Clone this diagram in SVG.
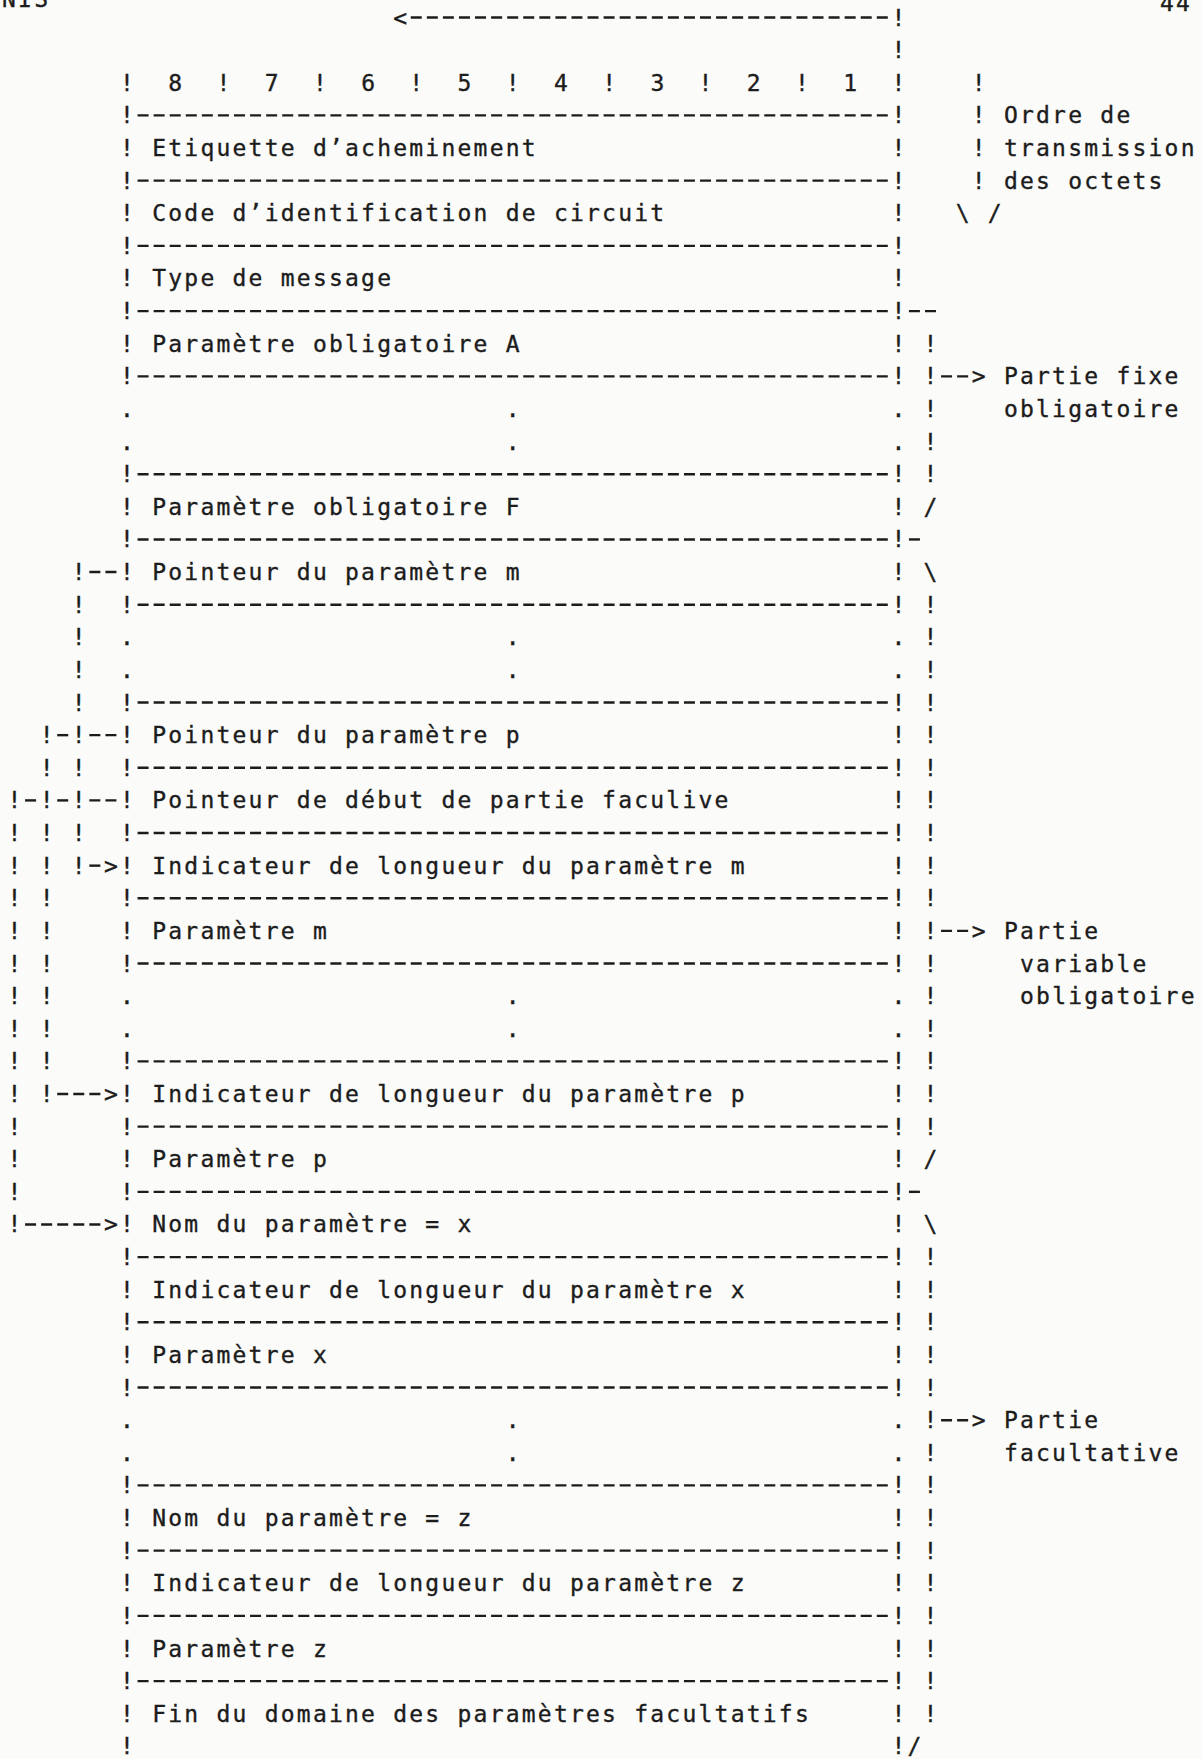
<svg xmlns="http://www.w3.org/2000/svg" xmlns:xlink="http://www.w3.org/1999/xlink" width="1203" height="1759" viewBox="0 0 1203 1759">
<style>
text{font-family:"DejaVu Sans Mono","Liberation Mono",monospace;font-size:23px;letter-spacing:2.22px;fill:#1c1c1c;stroke:#1c1c1c;stroke-width:0.35px;white-space:pre}
.d{stroke:#1c1c1c;stroke-width:2.4;stroke-dasharray:11 5.07;fill:none}
</style>
<defs>
<text id="edge" x="120.08 891.44" y="0">!!</text>
<text id="dots" x="120.08 505.76 891.44" y="0">...</text>
<line id="rule" x1="137.57" y1="-8" x2="887.79" y2="-8" class="d"/>
<text id="rb" x="923.58" y="0">!</text>
<text id="l7" x="7.59" y="0">!</text>
<text id="l5" x="39.73" y="0">!</text>
<text id="l3" x="71.87" y="0">!</text>
</defs>
<rect width="1203" height="1759" fill="#fbfbf9"/>

<g id="page">
<text x="2" y="7">NIS</text>
<text x="1160" y="11">44</text>
</g>

<g id="frame">
<text x="393.27" y="25.52">&lt;</text>
<line x1="410.76" y1="17.52" x2="887.79" y2="17.52" class="d"/>
<text x="891.44" y="25.52">!</text>
<text x="891.44" y="58.14">!</text>
<text x="120.08 168.29 216.50 264.71 312.92 361.13 409.34 457.55 505.76 553.97 602.18 650.39 698.60 746.81 795.02 843.23 891.44" y="90.76">!8!7!6!5!4!3!2!1!</text>
<use xlink:href="#edge" y="123.38"/><use xlink:href="#rule" y="123.38"/>
<use xlink:href="#edge" y="156"/>
<use xlink:href="#edge" y="188.62"/><use xlink:href="#rule" y="188.62"/>
<use xlink:href="#edge" y="221.24"/>
<use xlink:href="#edge" y="253.86"/><use xlink:href="#rule" y="253.86"/>
<use xlink:href="#edge" y="286.48"/>
<use xlink:href="#edge" y="319.10"/><use xlink:href="#rule" y="319.10"/>
<use xlink:href="#edge" y="351.72"/>
<use xlink:href="#edge" y="384.34"/><use xlink:href="#rule" y="384.34"/>
<use xlink:href="#dots" y="416.96"/>
<use xlink:href="#dots" y="449.58"/>
<use xlink:href="#edge" y="482.20"/><use xlink:href="#rule" y="482.20"/>
<use xlink:href="#edge" y="514.82"/>
<use xlink:href="#edge" y="547.44"/><use xlink:href="#rule" y="547.44"/>
<use xlink:href="#edge" y="580.06"/>
<use xlink:href="#edge" y="612.68"/><use xlink:href="#rule" y="612.68"/>
<use xlink:href="#dots" y="645.30"/>
<use xlink:href="#dots" y="677.92"/>
<use xlink:href="#edge" y="710.54"/><use xlink:href="#rule" y="710.54"/>
<use xlink:href="#edge" y="743.16"/>
<use xlink:href="#edge" y="775.78"/><use xlink:href="#rule" y="775.78"/>
<use xlink:href="#edge" y="808.40"/>
<use xlink:href="#edge" y="841.02"/><use xlink:href="#rule" y="841.02"/>
<use xlink:href="#edge" y="873.64"/>
<use xlink:href="#edge" y="906.26"/><use xlink:href="#rule" y="906.26"/>
<use xlink:href="#edge" y="938.88"/>
<use xlink:href="#edge" y="971.50"/><use xlink:href="#rule" y="971.50"/>
<use xlink:href="#dots" y="1004.12"/>
<use xlink:href="#dots" y="1036.74"/>
<use xlink:href="#edge" y="1069.36"/><use xlink:href="#rule" y="1069.36"/>
<use xlink:href="#edge" y="1101.98"/>
<use xlink:href="#edge" y="1134.60"/><use xlink:href="#rule" y="1134.60"/>
<use xlink:href="#edge" y="1167.22"/>
<use xlink:href="#edge" y="1199.84"/><use xlink:href="#rule" y="1199.84"/>
<use xlink:href="#edge" y="1232.46"/>
<use xlink:href="#edge" y="1265.08"/><use xlink:href="#rule" y="1265.08"/>
<use xlink:href="#edge" y="1297.70"/>
<use xlink:href="#edge" y="1330.32"/><use xlink:href="#rule" y="1330.32"/>
<use xlink:href="#edge" y="1362.94"/>
<use xlink:href="#edge" y="1395.56"/><use xlink:href="#rule" y="1395.56"/>
<use xlink:href="#dots" y="1428.18"/>
<use xlink:href="#dots" y="1460.80"/>
<use xlink:href="#edge" y="1493.42"/><use xlink:href="#rule" y="1493.42"/>
<use xlink:href="#edge" y="1526.04"/>
<use xlink:href="#edge" y="1558.66"/><use xlink:href="#rule" y="1558.66"/>
<use xlink:href="#edge" y="1591.28"/>
<use xlink:href="#edge" y="1623.90"/><use xlink:href="#rule" y="1623.90"/>
<use xlink:href="#edge" y="1656.52"/>
<use xlink:href="#edge" y="1689.14"/><use xlink:href="#rule" y="1689.14"/>
<use xlink:href="#edge" y="1721.76"/>
<use xlink:href="#edge" y="1754.38"/>
</g>

<g id="n-etiquette"><text x="152.22" y="156">Etiquette d’acheminement</text></g>
<g id="n-cic"><text x="152.22" y="221.24">Code d’identification de circuit</text></g>
<g id="n-type"><text x="152.22" y="286.48">Type de message</text></g>
<g id="n-param-a"><text x="152.22" y="351.72">Paramètre obligatoire A</text></g>
<g id="n-param-f"><text x="152.22" y="514.82">Paramètre obligatoire F</text></g>
<g id="n-ptr-m"><text x="152.22" y="580.06">Pointeur du paramètre m</text></g>
<g id="n-ptr-p"><text x="152.22" y="743.16">Pointeur du paramètre p</text></g>
<g id="n-ptr-opt"><text x="152.22" y="808.40">Pointeur de début de partie faculive</text></g>
<g id="n-len-m"><text x="152.22" y="873.64">Indicateur de longueur du paramètre m</text></g>
<g id="n-param-m"><text x="152.22" y="938.88">Paramètre m</text></g>
<g id="n-len-p"><text x="152.22" y="1101.98">Indicateur de longueur du paramètre p</text></g>
<g id="n-param-p"><text x="152.22" y="1167.22">Paramètre p</text></g>
<g id="n-name-x"><text x="152.22" y="1232.46">Nom du paramètre = x</text></g>
<g id="n-len-x"><text x="152.22" y="1297.70">Indicateur de longueur du paramètre x</text></g>
<g id="n-param-x"><text x="152.22" y="1362.94">Paramètre x</text></g>
<g id="n-name-z"><text x="152.22" y="1526.04">Nom du paramètre = z</text></g>
<g id="n-len-z"><text x="152.22" y="1591.28">Indicateur de longueur du paramètre z</text></g>
<g id="n-param-z"><text x="152.22" y="1656.52">Paramètre z</text></g>
<g id="n-end"><text x="152.22" y="1721.76">Fin du domaine des paramètres facultatifs</text></g>

<g id="connectors">
<use xlink:href="#l3" y="580.06"/><line x1="89.36" y1="572.06" x2="116.43" y2="572.06" class="d"/>
<use xlink:href="#l3" y="612.68"/>
<use xlink:href="#l3" y="645.30"/>
<use xlink:href="#l3" y="677.92"/>
<use xlink:href="#l3" y="710.54"/>
<use xlink:href="#l5" y="743.16"/><use xlink:href="#l3" y="743.16"/>
<line x1="57.22" y1="735.16" x2="68.22" y2="735.16" class="d"/><line x1="89.36" y1="735.16" x2="116.43" y2="735.16" class="d"/>
<use xlink:href="#l5" y="775.78"/><use xlink:href="#l3" y="775.78"/>
<use xlink:href="#l7" y="808.40"/><use xlink:href="#l5" y="808.40"/><use xlink:href="#l3" y="808.40"/>
<line x1="25.08" y1="800.40" x2="36.08" y2="800.40" class="d"/><line x1="57.22" y1="800.40" x2="68.22" y2="800.40" class="d"/><line x1="89.36" y1="800.40" x2="116.43" y2="800.40" class="d"/>
<use xlink:href="#l7" y="841.02"/><use xlink:href="#l5" y="841.02"/><use xlink:href="#l3" y="841.02"/>
<use xlink:href="#l7" y="873.64"/><use xlink:href="#l5" y="873.64"/><use xlink:href="#l3" y="873.64"/>
<line x1="89.36" y1="865.64" x2="100.36" y2="865.64" class="d"/><text x="104.01" y="873.64">&gt;</text>
<use xlink:href="#l7" y="906.26"/><use xlink:href="#l5" y="906.26"/>
<use xlink:href="#l7" y="938.88"/><use xlink:href="#l5" y="938.88"/>
<use xlink:href="#l7" y="971.50"/><use xlink:href="#l5" y="971.50"/>
<use xlink:href="#l7" y="1004.12"/><use xlink:href="#l5" y="1004.12"/>
<use xlink:href="#l7" y="1036.74"/><use xlink:href="#l5" y="1036.74"/>
<use xlink:href="#l7" y="1069.36"/><use xlink:href="#l5" y="1069.36"/>
<use xlink:href="#l7" y="1101.98"/><use xlink:href="#l5" y="1101.98"/>
<line x1="57.22" y1="1093.98" x2="100.36" y2="1093.98" class="d"/><text x="104.01" y="1101.98">&gt;</text>
<use xlink:href="#l7" y="1134.60"/>
<use xlink:href="#l7" y="1167.22"/>
<use xlink:href="#l7" y="1199.84"/>
<use xlink:href="#l7" y="1232.46"/>
<line x1="25.08" y1="1224.46" x2="100.36" y2="1224.46" class="d"/><text x="104.01" y="1232.46">&gt;</text>

<text x="971.79" y="90.76">!</text>
<text x="971.79" y="123.38">!</text>
<text x="971.79" y="156">!</text>
<text x="971.79" y="188.62">!</text>
<text x="955.72 987.86" y="221.24">\/</text>

<line x1="908.93" y1="311.10" x2="936.00" y2="311.10" class="d"/>
<use xlink:href="#rb" y="351.72"/>
<use xlink:href="#rb" y="384.34"/><line x1="941.07" y1="376.34" x2="968.14" y2="376.34" class="d"/><text x="971.79" y="384.34">&gt;</text>
<use xlink:href="#rb" y="416.96"/>
<use xlink:href="#rb" y="449.58"/>
<use xlink:href="#rb" y="482.20"/>
<text x="923.58" y="514.82">/</text>
<line x1="908.93" y1="539.44" x2="919.93" y2="539.44" class="d"/>

<text x="923.58" y="580.06">\</text>
<use xlink:href="#rb" y="612.68"/>
<use xlink:href="#rb" y="645.30"/>
<use xlink:href="#rb" y="677.92"/>
<use xlink:href="#rb" y="710.54"/>
<use xlink:href="#rb" y="743.16"/>
<use xlink:href="#rb" y="775.78"/>
<use xlink:href="#rb" y="808.40"/>
<use xlink:href="#rb" y="841.02"/>
<use xlink:href="#rb" y="873.64"/>
<use xlink:href="#rb" y="906.26"/>
<use xlink:href="#rb" y="938.88"/><line x1="941.07" y1="930.88" x2="968.14" y2="930.88" class="d"/><text x="971.79" y="938.88">&gt;</text>
<use xlink:href="#rb" y="971.50"/>
<use xlink:href="#rb" y="1004.12"/>
<use xlink:href="#rb" y="1036.74"/>
<use xlink:href="#rb" y="1069.36"/>
<use xlink:href="#rb" y="1101.98"/>
<use xlink:href="#rb" y="1134.60"/>
<text x="923.58" y="1167.22">/</text>
<line x1="908.93" y1="1191.84" x2="919.93" y2="1191.84" class="d"/>

<text x="923.58" y="1232.46">\</text>
<use xlink:href="#rb" y="1265.08"/>
<use xlink:href="#rb" y="1297.70"/>
<use xlink:href="#rb" y="1330.32"/>
<use xlink:href="#rb" y="1362.94"/>
<use xlink:href="#rb" y="1395.56"/>
<use xlink:href="#rb" y="1428.18"/><line x1="941.07" y1="1420.18" x2="968.14" y2="1420.18" class="d"/><text x="971.79" y="1428.18">&gt;</text>
<use xlink:href="#rb" y="1460.80"/>
<use xlink:href="#rb" y="1493.42"/>
<use xlink:href="#rb" y="1526.04"/>
<use xlink:href="#rb" y="1558.66"/>
<use xlink:href="#rb" y="1591.28"/>
<use xlink:href="#rb" y="1623.90"/>
<use xlink:href="#rb" y="1656.52"/>
<use xlink:href="#rb" y="1689.14"/>
<use xlink:href="#rb" y="1721.76"/>
<text x="907.51" y="1754.38">/</text>
</g>

<g id="annotations">
<text x="1003.93" y="123.38">Ordre de</text>
<text x="1003.93" y="156">transmission</text>
<text x="1003.93" y="188.62">des octets</text>
<text x="1003.93" y="384.34">Partie fixe</text>
<text x="1003.93" y="416.96">obligatoire</text>
<text x="1003.93" y="938.88">Partie</text>
<text x="1020.00" y="971.50">variable</text>
<text x="1020.00" y="1004.12">obligatoire</text>
<text x="1003.93" y="1428.18">Partie</text>
<text x="1003.93" y="1460.80">facultative</text>
</g>
</svg>
